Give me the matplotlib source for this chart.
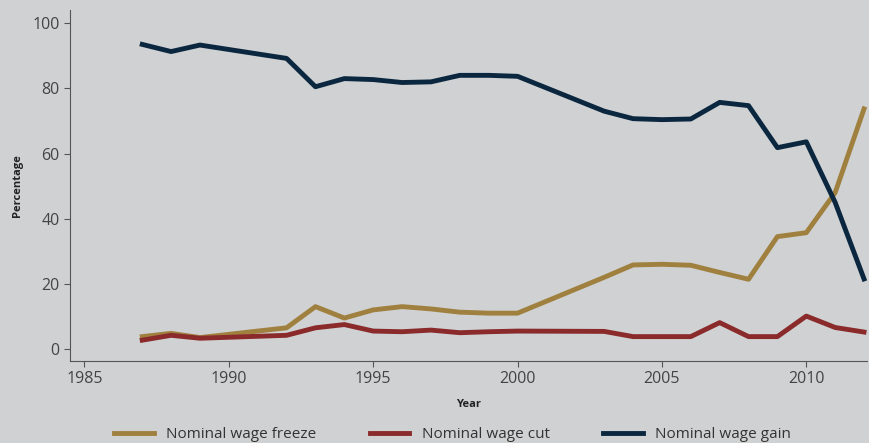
import matplotlib.pyplot as plt

years = [1987, 1988, 1989, 1992, 1993, 1994, 1995, 1996, 1997, 1998, 1999, 2000,
         2003, 2004, 2005, 2006, 2007, 2008, 2009, 2010, 2011, 2012]
wage_freeze = [3.8, 4.8, 3.5, 6.5, 13.0, 9.5, 12.0, 13.0, 12.3, 11.3, 11.0, 11.0,
               22.0, 25.8, 26.0, 25.7, 23.5, 21.4, 34.5, 35.7, 48.0, 73.7]
wage_cut = [2.7, 4.2, 3.3, 4.2, 6.5, 7.5, 5.5, 5.3, 5.8, 5.0, 5.3, 5.5,
            5.4, 3.8, 3.8, 3.8, 8.1, 3.8, 3.8, 10.1, 6.6, 5.2]
wage_gain = [93.5, 91.3, 93.3, 89.2, 80.5, 83.0, 82.7, 81.8, 82.0, 84.0, 84.0, 83.7,
             73.0, 70.7, 70.4, 70.6, 75.7, 74.7, 61.8, 63.6, 45.0, 21.5]

bg = '#cfd1d3'
plt.rcParams['font.family'] = ['Open Sans', 'DejaVu Sans']

fig = plt.figure(figsize=(8.69, 4.43), dpi=100, facecolor=bg)
ax = fig.add_axes([0.0806, 0.185, 0.917, 0.792], facecolor=bg)

ax.plot(years, wage_freeze, color='#a0803f', lw=3.5, label='Nominal wage freeze')
ax.plot(years, wage_cut, color='#8a2a2a', lw=3.5, label='Nominal wage cut')
ax.plot(years, wage_gain, color='#0b2740', lw=3.5, label='Nominal wage gain')

ax.set_xlim(1984.5, 2012.1)
ax.set_ylim(-3.7, 104)
ax.set_xticks([1985, 1990, 1995, 2000, 2005, 2010])
ax.set_yticks([0, 20, 40, 60, 80, 100])
for s in ['top', 'right']:
    ax.spines[s].set_visible(False)
for s in ['left', 'bottom']:
    ax.spines[s].set_color('#555555')
ax.tick_params(colors='#555555', labelcolor='#444444', labelsize=11.5, length=4)

ax.set_xlabel('Year', fontsize=8, fontweight='bold', color='#222222', labelpad=8)
ax.set_ylabel('Percentage', fontsize=8, fontweight='bold', color='#222222', labelpad=7)

ax.legend(loc='center', bbox_to_anchor=(0.48, -0.21), ncol=3, frameon=False,
          fontsize=11, handlelength=2.6, handletextpad=0.8, columnspacing=3.5,
          labelcolor='#333333', borderpad=0)

plt.savefig('out.png', dpi=100, facecolor=bg)
